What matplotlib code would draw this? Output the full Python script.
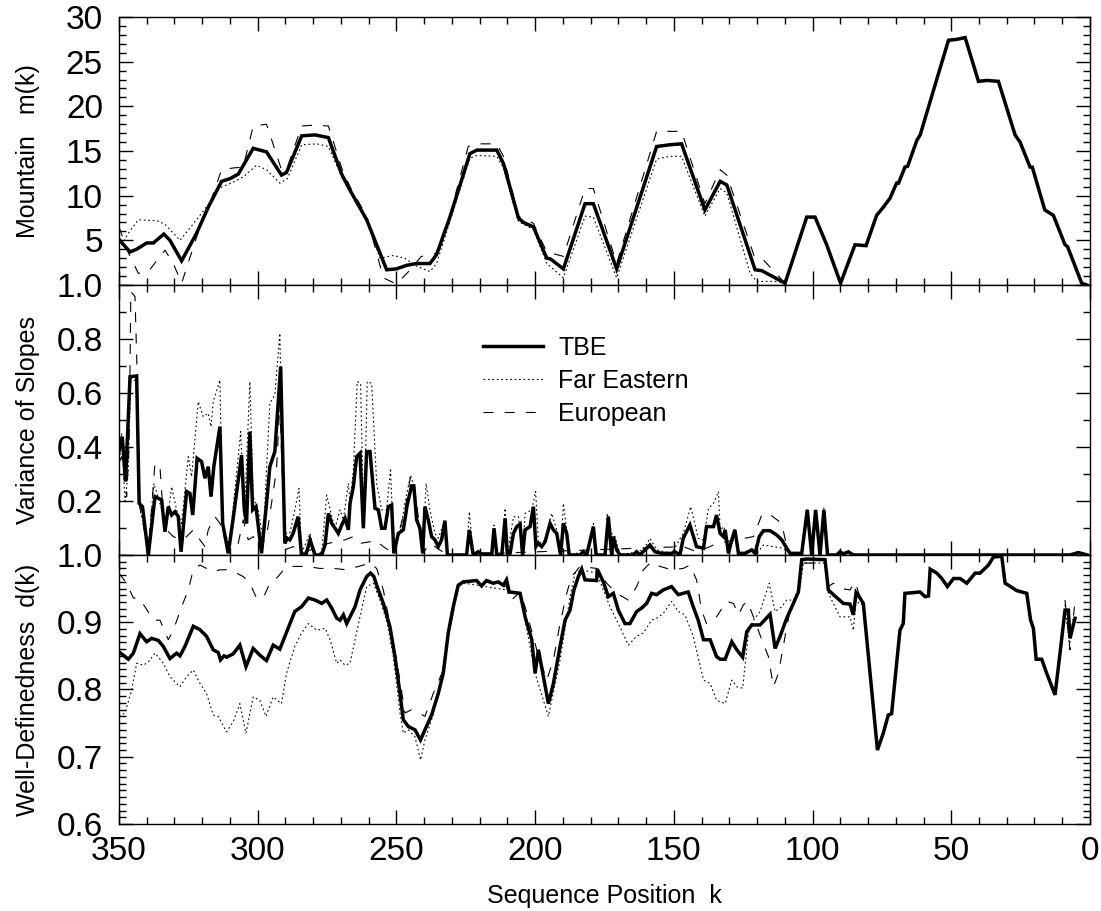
import numpy as np
import matplotlib
matplotlib.use("Agg")
import matplotlib.pyplot as plt
from matplotlib.ticker import MultipleLocator, FormatStrFormatter

plt.rcParams['font.family'] = ['Liberation Sans', 'DejaVu Sans']

nan = np.nan

# ---- Mountain m(k) ----
mnt_tbe_k = [350, 346, 343.6, 340, 337.6, 333.8, 331.6, 327.4, 322, 317.8, 313, 310, 307, 301.6, 296.8,
             291.4, 289.6, 284.1, 279.3, 274.5, 269.7, 266.7, 260.7, 253.5, 250, 246.3, 242.7, 237.9,
             235.5, 230.7, 223.5, 221, 213.8, 211.4, 206, 204.2, 200.6, 195.8, 194.4, 189.8, 182, 179,
             170.6, 156.2, 151.4, 147.2, 138.8, 133.3, 130.9, 120.7, 118.3, 109.9, 102.1, 99.1, 94.9,
             89.9, 84.7, 80.7, 76.9, 74.5, 72.1, 69.7, 69, 66.7, 65.7, 62.4, 61.2, 54, 51, 48, 45, 40.2,
             37.2, 33, 30, 27, 25.2, 21.6, 20.8, 16.3, 13.2, 9, 8.1, 3, 1.2]
mnt_tbe = [5.1, 3.7, 4.0, 4.7, 4.7, 5.7, 5.0, 2.7, 5.8, 8.7, 11.6, 11.9, 12.4, 15.3, 14.9,
           12.3, 12.6, 16.7, 16.8, 16.5, 12.4, 10.6, 7.3, 1.7, 1.8, 2.2, 2.4, 2.4,
           3.4, 7.6, 14.7, 15.1, 15.1, 13.6, 7.5, 7.0, 6.5, 3.0, 2.9, 1.8, 9.1, 9.1,
           1.8, 15.5, 15.7, 15.8, 8.4, 11.6, 11.2, 1.7, 1.6, 0.2, 7.6, 7.6, 4.5,
           0.2, 4.5, 4.4, 7.8, 8.7, 9.7, 11.4, 11.4, 13.2, 13.3, 16.2, 16.8, 24.3, 27.4, 27.5, 27.7, 22.8,
           22.9, 22.8, 19.8, 16.8, 16.0, 13.2, 13.2, 8.4, 7.8, 4.5, 4.3, 0.2, 0.0]

mnt_fe_k = [349, 346.6, 343, 336.4, 333.4, 328, 322, 317.8, 313.6, 308.8, 305.2, 300.4, 296.8, 292,
            289.3, 284.1, 278.7, 274.5, 269.7, 266.7, 260.7, 255.9, 251.1, 247, 242.7, 237.9, 235.5,
            230.7, 223.5, 221, 213.8, 211.4, 206, 200.6, 195.8, 189.8, 182, 179, 170.6, 156.2, 151.4,
            147.2, 138.8, 133.3, 130.9, 122.5, 120.1, 112.9, 109.9]
mnt_fe = [4.5, 5.8, 7.3, 7.2, 6.8, 5.0, 7.3, 9.0, 10.9, 11.5, 12.1, 13.4, 12.9, 11.4,
          11.9, 15.7, 15.8, 15.5, 12.1, 10.4, 7.1, 3.0, 3.3, 3.0, 2.1, 1.5, 2.4,
          7.1, 14.2, 14.5, 14.4, 13.1, 7.1, 6.2, 2.4, 0.8, 7.7, 7.6, 0.8, 14.1, 14.4,
          14.4, 7.7, 10.8, 10.3, 1.3, 0.4, 0.4, 0.2]

mnt_eu_k = [350, 346.6, 343, 339.4, 333.4, 330.4, 327.4, 320.8, 317, 313, 308.8, 305.2, 301.6, 296.8,
            291.4, 289.6, 284.1, 279.3, 274.5, 269.7, 266.7, 260.7, 254.7, 250, 245.6, 241, 237.9,
            235.5, 230.7, 224.1, 221, 213.8, 211.4, 206, 200.6, 195.8, 189.8, 182, 179, 170.6, 156.2,
            147.2, 138.8, 133.3, 130.9, 121, 118.3, 109.9]
mnt_eu = [6.5, 3.6, 1.3, 1.5, 3.9, 2.4, 0.2, 6.5, 9.3, 12.9, 13.1, 13.2, 17.8, 18.0,
          12.9, 12.9, 17.8, 17.9, 17.8, 13.1, 11.0, 7.7, 0.8, 0.1, 1.5, 3.2, 3.3,
          3.6, 7.8, 15.5, 15.8, 15.8, 14.4, 7.7, 6.9, 3.7, 3.2, 10.8, 10.8, 2.4, 17.2,
          17.2, 9.1, 12.9, 12.3, 3.2, 3.0, 0.2]

# ---- Variance of slopes ----
var_tbe_k = [350.0, 348.8, 347.6, 346.0, 343.6, 342.7, 341.5, 339.4, 337.0, 334.6, 333.4, 332.2, 331.0,
             329.8, 328.6, 327.6, 325.6, 324.4, 323.4, 321.8, 320.2, 319.0, 317.8, 316.8, 315.8, 313.6,
             312.6, 310.6, 308.8, 307.3, 305.8, 304.8, 304.0, 302.8, 301.8, 300.6, 298.6, 296.8, 295.6,
             293.8, 291.7, 290.2, 289.3, 288.4, 287.2, 285.4, 284.2, 282.6, 281.1, 279.3, 276.9, 275.7,
             274.5, 273.3, 272.1, 270.9, 269.7, 268.5, 267.3, 266.7, 265.5, 264.3, 263.1, 261.9, 260.7,
             259.5, 257.7, 256.5, 255.3, 254.1, 252.9, 251.7, 250.9, 249.3, 247.5, 246.1, 244.5, 243.7,
             242.7, 241.5, 240.5, 239.7, 238.5, 237.3, 236.1, 234.9, 233.7, 232.5, 231.6, 224.7, 223.7,
             222.3, 220.5, 219.3, 215.6, 214.8, 213.8, 212.0, 210.8, 210.0, 209.0, 207.8, 206.6, 205.4,
             204.5, 203.6, 201.8, 200.6, 199.7, 198.8, 197.6, 196.4, 194.6, 193.4, 192.2, 190.8, 189.8,
             188.6, 187.7, 183.8, 182.6, 181.4, 179.0, 178.0, 174.8, 173.6, 172.4, 171.8, 170.6, 169.4,
             164.6, 163.4, 162.2, 160.4, 158.6, 156.8, 154.4, 150.8, 149.6, 147.8, 146.6, 144.2, 141.8,
             139.3, 138.2, 135.7, 134.6, 133.3, 132.1, 131.5, 130.3, 129.1, 128.0, 126.7, 124.3, 121.9,
             120.7, 119.2, 117.7, 115.3, 112.9, 111.1, 109.3, 108.1, 103.9, 101.9, 100.3, 98.9, 97.3,
             95.9, 94.6, 91.3, 90.1, 88.9, 87.1, 85.3, 7.2, 4.2, 1.0]
var_tbe = [0.383, 0.438, 0.272, 0.660, 0.663, 0.191, 0.179, 0.0, 0.216, 0.204, 0.086, 0.179, 0.148,
           0.160, 0.142, 0.012, 0.235, 0.228, 0.148, 0.358, 0.346, 0.284, 0.327, 0.216, 0.327, 0.475,
           0.117, 0.006, 0.136, 0.253, 0.370, 0.167, 0.117, 0.457, 0.167, 0.179, 0.006, 0.191, 0.327,
           0.383, 0.698, 0.043, 0.062, 0.056, 0.080, 0.142, 0.0, 0.0, 0.056, 0.0, 0.0, 0.037,
           0.154, 0.117, 0.099, 0.080, 0.111, 0.136, 0.093, 0.191, 0.253, 0.364, 0.377, 0.099, 0.383,
           0.383, 0.173, 0.167, 0.099, 0.099, 0.179, 0.185, 0.006, 0.080, 0.093, 0.185, 0.256, 0.256,
           0.130, 0.099, 0.006, 0.179, 0.130, 0.068, 0.056, 0.031, 0.056, 0.127, 0.0, 0.0, 0.093,
           0.0, 0.012, 0.004, 0.004, 0.099, 0.0, 0.0, 0.136, 0.0, 0.006, 0.080, 0.105, 0.115,
           0.0, 0.093, 0.105, 0.179, 0.031, 0.043, 0.031, 0.049, 0.117, 0.093, 0.080, 0.0, 0.117,
           0.080, 0.0, 0.0, 0.012, 0.0, 0.105, 0.0, 0.0, 0.142, 0.0, 0.068, 0.019, 0.0,
           0.0, 0.012, 0.0, 0.019, 0.037, 0.012, 0.006, 0.006, 0.012, 0.0, 0.062, 0.111, 0.031,
           0.025, 0.105, 0.105, 0.148, 0.080, 0.068, 0.093, 0.006, 0.056, 0.093, 0.006, 0.006, 0.019,
           0.006, 0.068, 0.090, 0.090, 0.074, 0.056, 0.025, 0.006, 0.006, 0.167, 0.0, 0.167, 0.0,
           0.167, 0.0, 0.0, 0.012, 0.004, 0.012, 0.0, 0.0, 0.009, 0.0]

var_fe_k = [350.0, 349.0, 347.8, 346.6, 345.8, 343.9, 342.4, 339.4, 337.4, 335.2, 332.8, 331.0, 329.2,
            327.4, 325.0, 323.8, 321.4, 319.6, 317.8, 316.8, 316.0, 313.6, 312.6, 310.2, 308.2, 306.1,
            304.8, 302.8, 301.6, 299.8, 298.0, 296.8, 295.6, 293.8, 292.0, 290.5, 288.4, 286.6, 285.1,
            284.2, 281.1, 279.3, 276.9, 275.1, 273.3, 272.1, 270.3, 269.1, 267.3, 266.7, 265.5, 264.1,
            262.9, 261.7, 260.5, 258.9, 257.1, 255.3, 253.5, 252.1, 250.9, 248.7, 246.9, 244.9, 243.3,
            242.1, 240.5, 239.3, 237.9, 236.1, 234.9, 232.5, 231.6, 224.7, 223.7, 222.3, 215.6, 214.8,
            213.8, 212.0, 210.8, 210.0, 207.8, 206.0, 204.5, 203.6, 201.2, 199.8, 198.8, 196.4, 194.0,
            192.2, 190.8, 189.8, 188.6, 187.7, 182.6, 181.4, 179.0, 178.0, 174.8, 174.0, 172.4, 171.2,
            169.4, 163.4, 161.0, 158.6, 156.2, 150.8, 146.6, 143.9, 141.2, 139.3, 137.5, 135.7, 133.9,
            133.3, 131.9, 130.3, 128.0, 126.7, 121.9, 120.1, 117.7, 114.1, 110.5, 108.1, 103.9, 101.9,
            100.3, 98.9, 97.3, 95.9, 94.6, 91.3]
var_fe = [0.321, 0.451, 0.191, 0.315, 0.642, 0.648, 0.167, 0.031, 0.265, 0.191, 0.105, 0.253, 0.167,
          0.117, 0.364, 0.290, 0.568, 0.512, 0.525, 0.475, 0.568, 0.648, 0.117, 0.031, 0.241, 0.457,
          0.142, 0.642, 0.216, 0.167, 0.056, 0.315, 0.562, 0.593, 0.821, 0.080, 0.080, 0.167, 0.247,
          0.006, 0.080, 0.0, 0.012, 0.222, 0.142, 0.099, 0.167, 0.130, 0.265, 0.191, 0.315, 0.642,
          0.636, 0.099, 0.642, 0.636, 0.265, 0.167, 0.167, 0.321, 0.006, 0.080, 0.191, 0.296, 0.241,
          0.117, 0.006, 0.265, 0.167, 0.080, 0.062, 0.130, 0.0, 0.0, 0.160, 0.0, 0.0, 0.111,
          0.0, 0.0, 0.173, 0.0, 0.142, 0.142, 0.0, 0.154, 0.167, 0.235, 0.043, 0.056, 0.154,
          0.093, 0.0, 0.191, 0.093, 0.0, 0.012, 0.0, 0.117, 0.0, 0.0, 0.154, 0.080, 0.068,
          0.0, 0.012, 0.019, 0.062, 0.019, 0.006, 0.080, 0.179, 0.062, 0.056, 0.173, 0.191, 0.235,
          0.093, 0.105, 0.006, 0.099, 0.006, 0.019, 0.006, 0.037, 0.031, 0.025, 0.006, 0.006, 0.167,
          0.0, 0.167, 0.0, 0.173, 0.0, 0.0]

var_eu_k = [350.0, 349.0, 347.2, 346.3, 345.7, 344.2, 343.4, 342.7, 339.4, 337.0, 335.2, 334.0, 332.8,
            330.4, 327.4, 325.6, 323.2, 320.8, 319.0, 317.8, 315.4, 313.6, 311.2, 308.8, 307.0, 305.2,
            303.4, 301.6, 299.2, 296.8, 295.0, 293.2, 292.0, 290.2, 287.2, 284.2, 274.5, 268.5, 265.5,
            263.1, 259.5, 257.7, 254.7, 251.1, 246.9, 244.9, 242.7, 240.5, 237.9, 231.6, 146.6, 141.8,
            136.9, 134.6, 121.3, 118.3, 115.9, 111.1, 109.3, 108.1, 103.9]
var_eu = [0.340, 0.364, 0.216, 0.414, 0.975, 0.957, 0.660, 0.191, 0.012, 0.340, 0.327, 0.142, 0.093,
          0.068, 0.056, 0.068, 0.093, 0.056, 0.031, 0.093, 0.142, 0.117, 0.043, 0.056, 0.043, 0.130,
          0.056, 0.068, 0.025, 0.068, 0.191, 0.315, 0.562, 0.019, 0.031, 0.006, 0.043, 0.056, 0.068,
          0.043, 0.049, 0.056, 0.031, 0.006, 0.167, 0.290, 0.191, 0.006, 0.043, 0.0, 0.031, 0.012,
          0.031, 0.043, 0.068, 0.148, 0.154, 0.117, 0.031, 0.006, 0.006]

# ---- Well-definedness d(k) ----
wd_tbe_k = [350.0, 346.6, 344.8, 342.4, 340.0, 338.2, 335.8, 334.0, 331.6, 329.2, 328.0, 326.2, 323.2,
            320.8, 318.4, 316.0, 314.2, 313.4, 312.1, 311.2, 308.8, 306.4, 304.2, 301.6, 299.2, 296.8,
            294.4, 292.0, 289.6, 286.6, 284.2, 281.7, 279.3, 276.9, 275.1, 273.3, 271.5, 270.3, 269.1,
            267.9, 264.9, 263.1, 260.7, 259.3, 258.1, 257.1, 254.7, 252.3, 250.5, 248.7, 247.5, 245.7,
            243.3, 241.3, 239.7, 237.3, 234.9, 233.1, 231.3, 229.5, 227.7, 225.9, 221.1, 219.3, 217.5,
            215.1, 213.3, 211.4, 210.3, 209.3, 205.4, 203.6, 201.2, 200.0, 198.8, 197.0, 195.2, 193.4,
            191.0, 189.2, 187.4, 186.0, 184.4, 183.2, 182.0, 177.8, 177.6, 175.4, 173.6, 171.8, 170.0,
            167.6, 165.8, 163.4, 161.6, 159.8, 158.0, 156.2, 153.8, 150.8, 148.4, 146.6, 144.8, 143.0,
            141.2, 139.3, 136.9, 134.6, 133.3, 131.5, 129.1, 127.3, 125.2, 123.7, 121.9, 118.9, 115.3,
            113.5, 111.7, 109.3, 106.9, 105.1, 103.9, 102.1, 95.5, 94.3, 92.5, 88.9, 86.5, 85.3, 84.3,
            82.9, 81.7, 76.6, 74.5, 72.7, 71.5, 68.5, 67.3, 66.7, 63.7, 61.3, 59.4, 58.2, 57.6, 55.2,
            53.4, 51.4, 49.2, 46.8, 44.4, 41.4, 39.6, 36.6, 34.8, 31.8, 30.6, 29.4, 26.4, 22.8, 21.4,
            20.4, 19.4, 17.4, 15.6, 12.6, 10.8, 9.0, 7.8, 7.2, 5.4]
wd_tbe = [0.856, 0.845, 0.854, 0.883, 0.871, 0.876, 0.873, 0.864, 0.846, 0.854, 0.850, 0.864, 0.894,
          0.889, 0.879, 0.859, 0.855, 0.844, 0.850, 0.848, 0.853, 0.866, 0.834, 0.861, 0.851, 0.843,
          0.866, 0.860, 0.885, 0.916, 0.923, 0.936, 0.933, 0.928, 0.933, 0.921, 0.906, 0.903, 0.911,
          0.898, 0.923, 0.948, 0.968, 0.973, 0.968, 0.955, 0.928, 0.893, 0.849, 0.794, 0.755, 0.745,
          0.740, 0.725, 0.740, 0.762, 0.794, 0.824, 0.884, 0.923, 0.955, 0.960, 0.962, 0.954, 0.962,
          0.958, 0.960, 0.955, 0.963, 0.945, 0.943, 0.908, 0.874, 0.824, 0.859, 0.819, 0.779, 0.809,
          0.864, 0.903, 0.918, 0.948, 0.968, 0.979, 0.963, 0.962, 0.979, 0.960, 0.938, 0.943, 0.918,
          0.898, 0.898, 0.916, 0.921, 0.928, 0.943, 0.941, 0.948, 0.953, 0.941, 0.943, 0.945, 0.923,
          0.903, 0.874, 0.874, 0.849, 0.845, 0.845, 0.871, 0.859, 0.848, 0.886, 0.896, 0.896, 0.912,
          0.861, 0.879, 0.906, 0.928, 0.945, 0.993, 0.994, 0.993, 0.948, 0.941, 0.928, 0.927, 0.911, 0.944,
          0.936, 0.928, 0.710, 0.735, 0.762, 0.764, 0.888, 0.898, 0.943, 0.944, 0.945, 0.938, 0.939, 0.979, 0.973,
          0.965, 0.953, 0.965, 0.965, 0.958, 0.973, 0.973, 0.985, 0.997, 0.998, 0.958, 0.955, 0.947, 0.943, 0.903,
          0.891, 0.845, 0.845, 0.824, 0.792, 0.854, 0.918, 0.918, 0.876, 0.906]

wd_fe_k = [350.0, 347.8, 345.4, 343.6, 341.2, 339.4, 337.0, 334.0, 331.6, 328.0, 325.6, 323.2, 320.8,
           318.4, 316.0, 314.2, 311.2, 308.8, 306.4, 304.2, 301.6, 299.2, 297.0, 294.4, 291.4, 289.6,
           286.6, 284.2, 281.7, 278.7, 275.7, 273.9, 271.5, 270.3, 268.5, 266.7, 264.9, 263.1, 260.7,
           258.3, 255.9, 253.5, 251.1, 248.7, 247.5, 245.7, 243.3, 241.3, 239.7, 237.3, 234.3, 231.9,
           229.5, 227.7, 225.3, 210.3, 205.4, 203.6, 200.0, 195.2, 191.0, 187.4, 185.6, 183.2, 177.8,
           175.4, 173.0, 169.4, 166.4, 163.4, 161.0, 158.0, 156.2, 153.8, 150.8, 148.4, 146.0, 143.0,
           139.3, 136.9, 134.6, 131.5, 129.1, 127.3, 125.2, 123.1, 121.3, 118.9, 115.6, 113.5, 111.1,
           109.3, 106.9, 104.5, 103.3, 95.5, 94.3, 90.1, 86.5, 85.3, 84.3, 82.9, 81.7, nan, 9.0, 7.4, 6.0]
wd_fe = [0.760, 0.765, 0.799, 0.839, 0.836, 0.841, 0.854, 0.839, 0.819, 0.804, 0.819, 0.829, 0.809,
         0.794, 0.762, 0.760, 0.737, 0.752, 0.779, 0.735, 0.789, 0.784, 0.760, 0.789, 0.779, 0.824,
         0.864, 0.884, 0.898, 0.888, 0.891, 0.874, 0.839, 0.844, 0.836, 0.839, 0.874, 0.908, 0.953,
         0.958, 0.933, 0.903, 0.849, 0.765, 0.735, 0.740, 0.730, 0.695, 0.725, 0.755, 0.799, 0.869,
         0.913, 0.953, 0.958, 0.948, 0.943, 0.903, 0.824, 0.760, 0.844, 0.938, 0.973, 0.978, 0.973,
         0.948, 0.923, 0.893, 0.866, 0.879, 0.884, 0.903, 0.906, 0.913, 0.931, 0.916, 0.911, 0.879,
         0.814, 0.809, 0.784, 0.779, 0.814, 0.804, 0.802, 0.884, 0.903, 0.916, 0.958, 0.916, 0.923,
         0.933, 0.933, 0.953, 0.988, 0.988, 0.943, 0.908, 0.908, 0.888, 0.933, 0.926, 0.928, nan, 0.926, 0.865, 0.908]

wd_eu_k = [350.0, 347.2, 344.8, 343.0, 340.6, 337.6, 335.2, 332.2, 330.4, 327.4, 325.0, 323.2, 320.8,
           318.4, 316.0, 313.6, 310.6, 307.6, 305.2, 302.8, 300.4, 298.0, 295.6, 292.6, 290.2, 287.2,
           282.3, 277.5, 272.7, 267.9, 261.9, 259.5, 257.1, 254.7, 251.7, 248.7, 246.9, 244.5, 242.7,
           239.7, 236.7, 233.1, 231.3, 229.5, 227.7, 221.1, 210.3, 209.0, 205.4, 203.6, 199.4, 195.8,
           193.4, 191.0, 188.6, 186.8, 183.8, 177.8, 174.2, 170.6, 166.4, 163.4, 161.0, 158.0, 155.0,
           150.8, 146.6, 144.2, 141.8, 140.0, 138.2, 134.6, 131.0, 128.5, 126.7, 124.9, 123.5, 121.3,
           118.3, 115.9, 114.1, 112.3, 109.9, 108.1, 105.7, 103.9, 95.5, 94.3, 92.5, 89.5, 86.5, 84.7,
           82.9, 81.7, nan, 9.0, 7.2, 5.6]
wd_eu = [0.973, 0.958, 0.936, 0.936, 0.923, 0.903, 0.903, 0.874, 0.888, 0.923, 0.948, 0.978, 0.985,
         0.980, 0.975, 0.978, 0.978, 0.973, 0.968, 0.958, 0.936, 0.936, 0.958, 0.968, 0.980, 0.983,
         0.983, 0.980, 0.980, 0.978, 0.985, 0.988, 0.980, 0.948, 0.884, 0.814, 0.765, 0.770, 0.767,
         0.760, 0.794, 0.829, 0.886, 0.926, 0.960, 0.963, 0.953, 0.931, 0.945, 0.923, 0.859, 0.814,
         0.844, 0.898, 0.943, 0.968, 0.983, 0.980, 0.958, 0.943, 0.933, 0.953, 0.978, 0.990, 0.983,
         0.978, 0.980, 0.985, 0.963, 0.918, 0.898, 0.908, 0.931, 0.928, 0.911, 0.926, 0.931, 0.908,
         0.874, 0.849, 0.804, 0.824, 0.879, 0.918, 0.938, 0.988, 0.988, 0.953, 0.958, 0.950, 0.948, 0.960,
         0.938, 0.928, nan, 0.933, 0.859, 0.923]

x_ticks = [350, 300, 250, 200, 150, 100, 50, 0]

TBE_STYLE = dict(color='black', lw=2.5, solid_joinstyle='miter')
FE_STYLE = dict(color='black', lw=0.8, dashes=(1.5, 2.5))
EU_STYLE = dict(color='black', lw=0.8, dashes=(9, 10))

fig = plt.figure(figsize=(11.01, 9.11), dpi=100)
left, width = 0.108, 0.882
ax1 = fig.add_axes([left, 0.6872, width, 0.2941])
ax2 = fig.add_axes([left, 0.3908, width, 0.2964])
ax3 = fig.add_axes([left, 0.0955, width, 0.2953])

ax1.plot(mnt_fe_k, mnt_fe, **FE_STYLE)
ax1.plot(mnt_eu_k, mnt_eu, **EU_STYLE)
ax1.plot(mnt_tbe_k, mnt_tbe, **TBE_STYLE)

ax2.plot(var_fe_k, var_fe, label='Far Eastern', **FE_STYLE)
ax2.plot(var_eu_k, var_eu, label='European', **EU_STYLE)
ax2.plot(var_tbe_k, var_tbe, label='TBE', **TBE_STYLE)

ax3.plot(wd_fe_k, wd_fe, **FE_STYLE)
ax3.plot(wd_eu_k, wd_eu, **EU_STYLE)
ax3.plot(wd_tbe_k, wd_tbe, **TBE_STYLE)

ax1.set_ylim(0, 30)
ax1.set_yticks([5, 10, 15, 20, 25, 30])
ax1.yaxis.set_minor_locator(MultipleLocator(1))
ax1.yaxis.set_major_formatter(FormatStrFormatter('%d'))

ax2.set_ylim(0, 1.0)
ax2.set_yticks([0.2, 0.4, 0.6, 0.8, 1.0])
ax2.yaxis.set_minor_locator(MultipleLocator(0.1))
ax2.yaxis.set_major_formatter(FormatStrFormatter('%.1f'))

ax3.set_ylim(0.6, 1.0)
ax3.set_yticks([0.6, 0.7, 0.8, 0.9, 1.0])
ax3.yaxis.set_minor_locator(MultipleLocator(0.01))
ax3.yaxis.set_major_formatter(FormatStrFormatter('%.1f'))

for ax in (ax1, ax2, ax3):
    ax.set_xlim(350, 0)
    ax.set_xticks(x_ticks)
    ax.xaxis.set_minor_locator(MultipleLocator(10))
    ax.tick_params(which='both', direction='in', top=True, right=True, width=1.0, labelsize=24)
    ax.tick_params(axis='x', pad=9)
    ax.tick_params(axis='y', pad=11.5)
    ax.tick_params(which='major', length=10)
    ax.tick_params(which='minor', length=5)
    for s in ax.spines.values():
        s.set_linewidth(1.0)
    ax.yaxis.set_label_coords(-0.081, 0.5)

ax1.tick_params(labelbottom=False)
ax2.tick_params(labelbottom=False)

ax1.set_ylabel('Mountain   m(k)', fontsize=18)
ax2.set_ylabel('Variance of Slopes', fontsize=18)
ax3.set_ylabel('Well-Definedness  d(k)', fontsize=18)
ax3.set_xlabel('Sequence Position  k', fontsize=18)
ax3.xaxis.set_label_coords(0.5, -0.222)

handles, labels = ax2.get_legend_handles_labels()
order = [2, 0, 1]
ax2.legend([handles[i] for i in order], [labels[i] for i in order],
           loc='upper left', bbox_to_anchor=(0.375, 0.812), frameon=False,
           fontsize=18, handlelength=2.4, handletextpad=0.6, labelspacing=0.36,
           borderpad=0, borderaxespad=0)

fig.savefig('out.png', dpi=100)
